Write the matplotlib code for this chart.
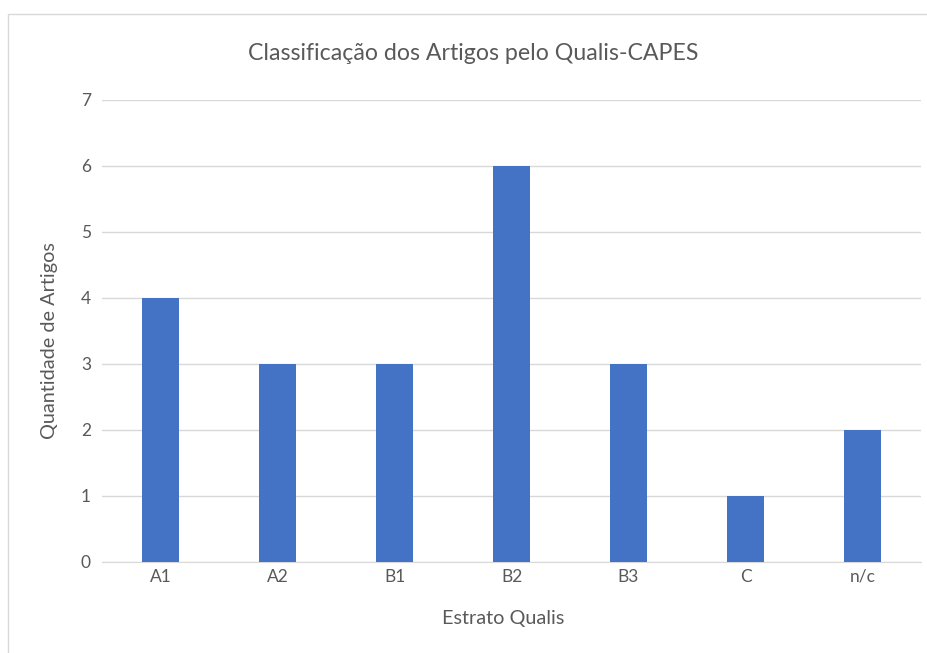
import matplotlib.pyplot as plt
from matplotlib.patches import Rectangle

# dados do gráfico
estratos = ['A1', 'A2', 'B1', 'B2', 'B3', 'C', 'n/c']
quantidade = [4, 3, 3, 6, 3, 1, 2]

plt.rcParams['font.family'] = ['Lato', 'DejaVu Sans']
cinza = '#595959'

fig = plt.figure(figsize=(9.28, 6.53), dpi=100)
ax = fig.add_axes([0.110, 0.1394, 0.8825, 0.7075])

# moldura da área do gráfico
fig.patches.append(Rectangle((8 / 928, -0.1), 1.2, 1 - 14 / 653 + 0.1,
                             transform=fig.transFigure, fill=False,
                             edgecolor='#d9d9d9', linewidth=1))

x = range(len(estratos))
ax.bar(x, quantidade, width=0.31, color='#4472c4', zorder=3)

ax.set_xlim(-0.5, len(estratos) - 0.5)
ax.set_ylim(0, 7)
ax.set_yticks(range(0, 8))
ax.set_xticks(list(x))
ax.set_xticklabels(estratos)
ax.grid(axis='y', color='#d9d9d9', linewidth=1, zorder=0)
ax.tick_params(length=0, colors=cinza, labelsize=12.5, pad=8)
ax.tick_params(axis='x', pad=5)
for s in ['top', 'right', 'left']:
    ax.spines[s].set_visible(False)
ax.spines['bottom'].set_color('#d9d9d9')

fig.text(473 / 928, 1 - 53 / 653, 'Classificação dos Artigos pelo Qualis-CAPES',
         color=cinza, fontsize=16.7, ha='center', va='center')
ax.set_xlabel('Estrato Qualis', color=cinza, fontsize=14.3)
ax.xaxis.set_label_coords(0.49, -0.105)
ax.set_ylabel('Quantidade de Artigos', color=cinza, fontsize=14.3)
ax.yaxis.set_label_coords(-0.054, 0.48)

plt.savefig('out.png', dpi=100)
